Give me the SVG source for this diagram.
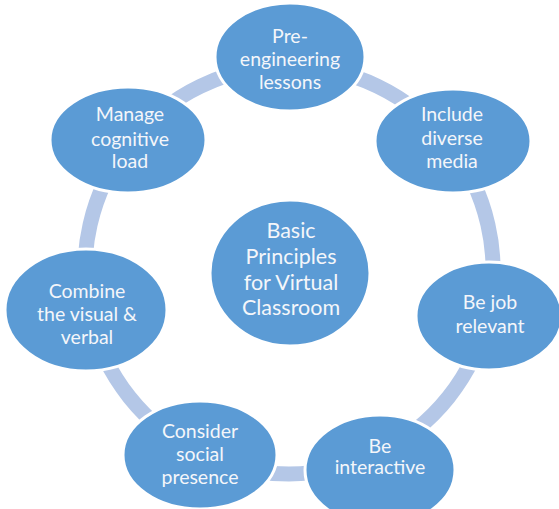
<svg xmlns="http://www.w3.org/2000/svg" width="559" height="509" viewBox="0 0 559 509">
<style>
.n{fill:#5b9bd5;stroke:#ffffff;stroke-width:3}
.c{fill:none;stroke:#b4c7e7;stroke-width:15}
.t{font-family:Lato,"Open Sans","Liberation Sans",sans-serif;font-size:19.5px;fill:#f4f6fa;text-anchor:middle}
.tc{font-size:21.5px}
</style>
<rect width="559" height="509" fill="#ffffff"/>
<g id="connectors">
<path class="c" d="M289,66 A204,204 0 0 1 448.5,142.8"/>
<path class="c" d="M448.5,142.8 A204,204 0 0 1 487.9,315.4"/>
<path class="c" d="M487.9,315.4 A204,204 0 0 1 377.5,453.8"/>
<path class="c" d="M377.5,453.8 A204,204 0 0 1 200.5,453.8"/>
<path class="c" d="M200.5,453.8 A204,204 0 0 1 90.1,315.4"/>
<path class="c" d="M90.1,315.4 A204,204 0 0 1 129.5,142.8"/>
<path class="c" d="M129.5,142.8 A204,204 0 0 1 289,66"/>
</g>
<g id="center">
<ellipse class="n" cx="290" cy="273" rx="80" ry="73"/>
<text class="t tc" x="291" y="238">Basic</text>
<text class="t tc" x="291" y="264">Principles</text>
<text class="t tc" x="291" y="290">for Virtual</text>
<text class="t tc" x="291" y="315">Classroom</text>
</g>
<g id="n1">
<ellipse class="n" cx="290" cy="57" rx="75" ry="54"/>
<text class="t" x="290" y="43">Pre-</text>
<text class="t" x="290" y="66">engineering</text>
<text class="t" x="290" y="89">lessons</text>
</g>
<g id="n2">
<ellipse class="n" cx="453" cy="141" rx="78" ry="52"/>
<text class="t" x="452" y="121">Include</text>
<text class="t" x="452" y="145">diverse</text>
<text class="t" x="452" y="168">media</text>
</g>
<g id="n3">
<ellipse class="n" cx="489" cy="316" rx="73" ry="54"/>
<text class="t" x="490" y="309">Be job</text>
<text class="t" x="490" y="333">relevant</text>
</g>
<g id="n4">
<ellipse class="n" cx="380" cy="470" rx="75" ry="55"/>
<text class="t" x="380" y="453">Be</text>
<text class="t" x="380" y="474">interactive</text>
</g>
<g id="n5">
<ellipse class="n" cx="200" cy="455" rx="77" ry="54"/>
<text class="t" x="200" y="438">Consider</text>
<text class="t" x="200" y="461">social</text>
<text class="t" x="200" y="484">presence</text>
</g>
<g id="n6">
<ellipse class="n" cx="86" cy="310" rx="81" ry="61"/>
<text class="t" x="87" y="298">Combine</text>
<text class="t" x="87" y="321">the visual &amp;</text>
<text class="t" x="87" y="344">verbal</text>
</g>
<g id="n7">
<ellipse class="n" cx="128" cy="140" rx="78" ry="53"/>
<text class="t" x="130" y="121">Manage</text>
<text class="t" x="130" y="146">cognitive</text>
<text class="t" x="130" y="168">load</text>
</g>
</svg>
